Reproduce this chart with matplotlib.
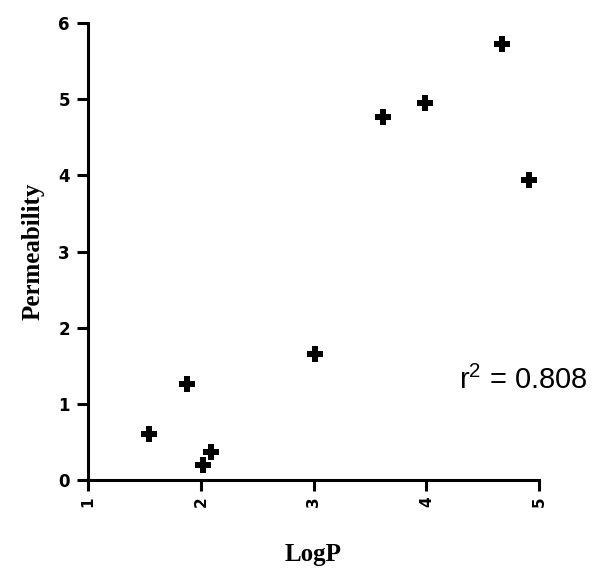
import matplotlib.pyplot as plt

# LogP vs permeability measurements
logp = [1.54, 1.88, 2.02, 2.09, 3.01, 3.62, 3.99, 4.67, 4.91]
permeability = [0.60, 1.26, 0.20, 0.37, 1.66, 4.76, 4.95, 5.73, 3.94]
r_squared = "0.808"

xticks = [1, 2, 3, 4, 5]
yticks = [0, 1, 2, 3, 4, 5, 6]

fig = plt.figure(figsize=(5.99, 5.75), dpi=100)
ax = fig.add_axes([0.147, 0.165, 0.753, 0.795])

ax.plot(logp, permeability, linestyle='none', marker='P', markersize=11,
        color='black', markeredgewidth=0)

ax.set_xlim(1, 5)
ax.set_ylim(0, 6)
ax.set_xticks(xticks)
ax.set_yticks(yticks)

for side in ['top', 'right']:
    ax.spines[side].set_visible(False)
for side in ['left', 'bottom']:
    ax.spines[side].set_linewidth(2.2)

ax.tick_params(axis='both', direction='out', length=8, width=2.2, color='black')
ax.tick_params(axis='y', pad=5)
ax.set_xticklabels([str(t) for t in xticks], rotation=90,
                   family='DejaVu Sans', fontweight='bold', fontsize=11)
ax.set_yticklabels([str(t) for t in yticks],
                   family='DejaVu Sans', fontweight='bold', fontsize=12)

ax.set_xlabel('LogP', family='Liberation Serif', fontweight='bold',
              fontsize=18, labelpad=26)
ax.set_ylabel('Permeability', family='Liberation Serif', fontweight='bold',
              fontsize=18, labelpad=10)

ax.text(4.29, 1.31, r'r$^{\mathregular{2}}$ = ' + r_squared,
        family='Liberation Sans', fontsize=21, va='center', ha='left',
        clip_on=False)

fig.savefig('out.png', dpi=100)
